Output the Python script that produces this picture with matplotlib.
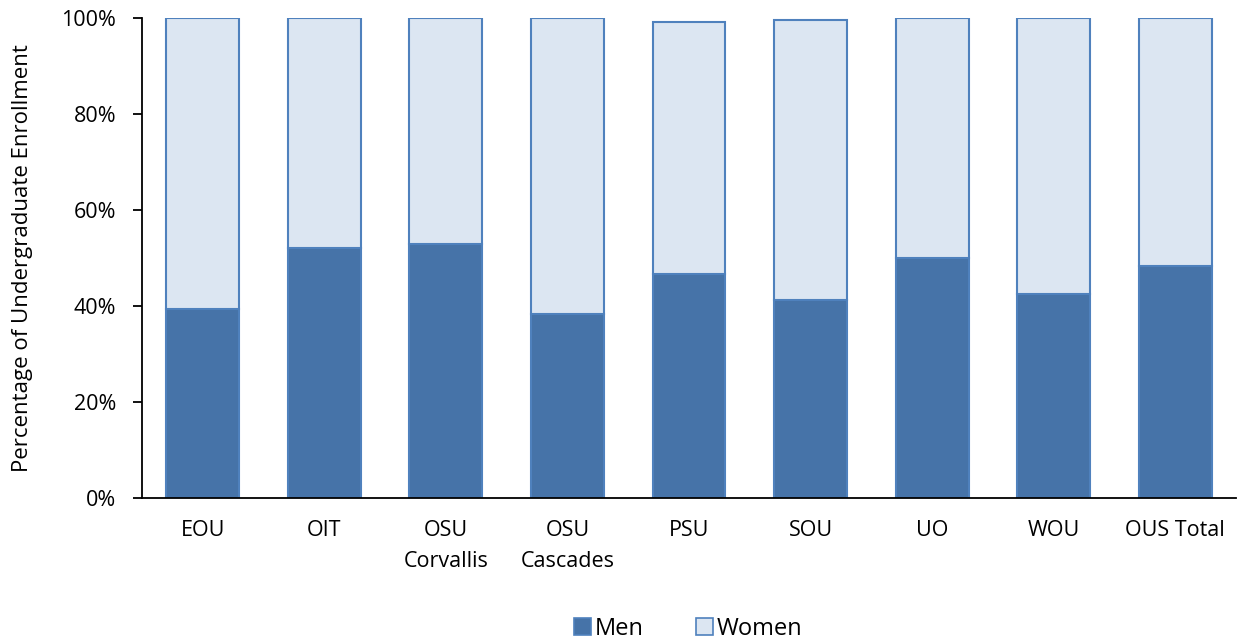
import matplotlib
matplotlib.use("Agg")
import matplotlib.pyplot as plt
from matplotlib.ticker import PercentFormatter
from matplotlib.patches import Patch

categories = ["EOU", "OIT", "OSU\nCorvallis", "OSU\nCascades", "PSU", "SOU", "UO", "WOU", "OUS Total"]
men = [39.3, 52.2, 52.9, 38.4, 46.8, 41.3, 50.1, 42.6, 48.4]
totals = [100.0, 100.0, 100.0, 100.0, 99.2, 99.6, 100.0, 100.0, 100.0]
women = [t - m for t, m in zip(totals, men)]

plt.rcParams['font.family'] = ['Open Sans', 'DejaVu Sans']

fig = plt.figure(figsize=(12.39, 6.43), dpi=100)
ax = fig.add_axes([142/1239, 1 - 498/643, (1236 - 142)/1239, (498 - 18.3)/643])

x = list(range(len(categories)))
edge = "#4F81BD"
ax.bar(x, men, width=0.6, color="#4673A8", edgecolor=edge, linewidth=1.5, label="Men")
ax.bar(x, women, width=0.6, bottom=men, color="#DCE6F2", edgecolor=edge, linewidth=1.5, label="Women")

ax.set_xlim(-0.5, len(categories) - 0.5)
ax.set_ylim(0, 100)
ax.set_yticks([0, 20, 40, 60, 80, 100])
ax.yaxis.set_major_formatter(PercentFormatter(decimals=0))
ax.set_xticks(x)
ax.set_xticklabels(categories, fontsize=15.5, linespacing=1.6, va="top")
ax.tick_params(axis="x", length=0, pad=16)
ax.tick_params(axis="y", length=6.5, width=1.3, pad=12, labelsize=15.5, direction="out")
for s in ["top", "right"]:
    ax.spines[s].set_visible(False)
ax.spines["left"].set_linewidth(1.3)
ax.spines["bottom"].set_linewidth(1.3)

ax.set_ylabel("Percentage of Undergraduate Enrollment", fontsize=16)
ax.yaxis.set_label_coords(-0.100, 0.5)

handles = [Patch(facecolor="#4673A8", edgecolor=edge, linewidth=1.2, label="Men"),
           Patch(facecolor="#DCE6F2", edgecolor=edge, linewidth=1.2, label="Women")]
fig.legend(handles=handles, loc="center", bbox_to_anchor=(688/1239, 1 - 629/643), ncol=2,
           frameon=False, fontsize=17, handlelength=0.75, handleheight=0.75,
           handletextpad=0.15, columnspacing=2.2)

fig.savefig("out.png", dpi=100)
